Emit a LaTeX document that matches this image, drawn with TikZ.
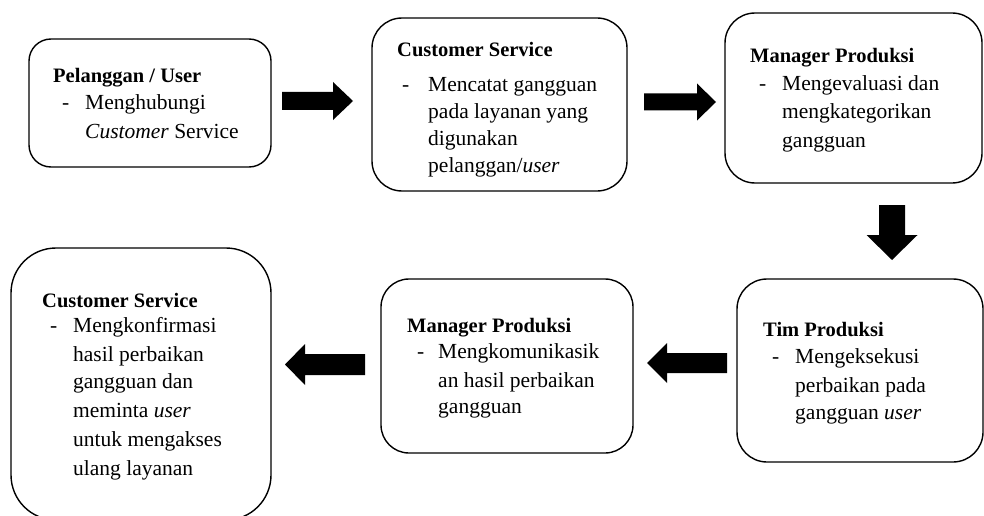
\documentclass[tikz,border=0pt]{standalone}
\usepackage{fontspec}
\setmainfont{Liberation Serif}
\newcommand\bodyfont{\fontsize{21.5}{27}\selectfont}
\newcommand\headfont{\fontsize{20.5}{27}\selectfont\bfseries}
\newcommand\barrow[7]{% x y length shafthalf headhalf headlen angle
  \fill[shift={(#1,#2)},rotate=#7] (0,-#4) -- (#3-#6,-#4) -- (#3-#6,-#5) -- (#3,0) -- (#3-#6,#5) -- (#3-#6,#4) -- (0,#4) -- cycle;}
\tikzset{
  box/.style={draw, line width=1.4pt, rounded corners=#1, inner sep=0pt},
  ttl/.style={anchor=base west, inner sep=0pt, font=\headfont},
  ln/.style={anchor=base west, inner sep=0pt, font=\bodyfont},
}
\begin{document}
\begin{tikzpicture}[x=1pt,y=-1pt]
\useasboundingbox (0,0) rectangle (984,516);
% boxes
\node[box=22pt, minimum width=242pt, minimum height=128pt] (b1) at (150,103) {};
\node[box=30pt, minimum width=255pt, minimum height=173pt] (b2) at (499.5,104.5) {};
\node[box=30pt, minimum width=257pt, minimum height=170pt] (b3) at (853.5,98) {};
\node[box=30pt, minimum width=246pt, minimum height=183pt] (b4) at (860,370.5) {};
\node[box=28pt, minimum width=252pt, minimum height=174pt] (b5) at (507,366) {};
\node[box=45pt, minimum width=260pt, minimum height=272pt] (b6) at (141,384) {};
% arrows
\barrow{282}{101}{71}{9}{19}{20}{0}
\barrow{644}{102}{72}{8.5}{18.5}{19}{0}
\barrow{892}{205}{55}{13}{25.5}{25}{-90}
\barrow{727}{363}{80}{10}{20}{20}{180}
\barrow{365}{364.5}{80}{10.5}{20.5}{20}{180}
% box 1
\node[ttl] (t1) at (53,83) {Pelanggan / User};
\node[ln] (d1) at (62,110) {-};
\node[ln] (l1a) at (85,110) {Menghubungi};
\node[ln] (l1b) at (85,138) {\textit{Customer} Service};
% box 2
\node[ttl] (t2) at (397,57) {Customer Service};
\node[ln] (d2) at (402,92) {-};
\node[ln] (l2a) at (428,92) {Mencatat gangguan};
\node[ln] (l2b) at (428,118) {pada layanan yang};
\node[ln] (l2c) at (428,145) {digunakan};
\node[ln] (l2d) at (428,172) {pelanggan/\textit{user}};
% box 3
\node[ttl] (t3) at (750,63) {Manager Produksi};
\node[ln] (d3) at (759,91) {-};
\node[ln] (l3a) at (782,91) {Mengevaluasi dan};
\node[ln] (l3b) at (782,118) {mengkategorikan};
\node[ln] (l3c) at (782,147) {gangguan};
% box 4
\node[ttl] (t4) at (763,336) {Tim Produksi};
\node[ln] (d4) at (772,363) {-};
\node[ln] (l4a) at (795,363) {Mengeksekusi};
\node[ln] (l4b) at (795,392) {perbaikan pada};
\node[ln] (l4c) at (795,419) {gangguan \textit{user}};
% box 5
\node[ttl] (t5) at (407,332) {Manager Produksi};
\node[ln] (d5) at (417,358) {-};
\node[ln] (l5a) at (438,358) {Mengkomunikasik};
\node[ln] (l5b) at (438,387) {an hasil perbaikan};
\node[ln] (l5c) at (438,413) {gangguan};
% box 6
\node[ttl] (t6) at (42,307) {Customer Service};
\node[ln] (d6) at (50,332) {-};
\node[ln] (l6a) at (73,332) {Mengkonfirmasi};
\node[ln] (l6b) at (73,361) {hasil perbaikan};
\node[ln] (l6c) at (73,388) {gangguan dan};
\node[ln] (l6d) at (73,417) {meminta \textit{user}};
\node[ln] (l6e) at (73,446) {untuk mengakses};
\node[ln] (l6f) at (73,475) {ulang layanan};
\end{tikzpicture}
\end{document}
